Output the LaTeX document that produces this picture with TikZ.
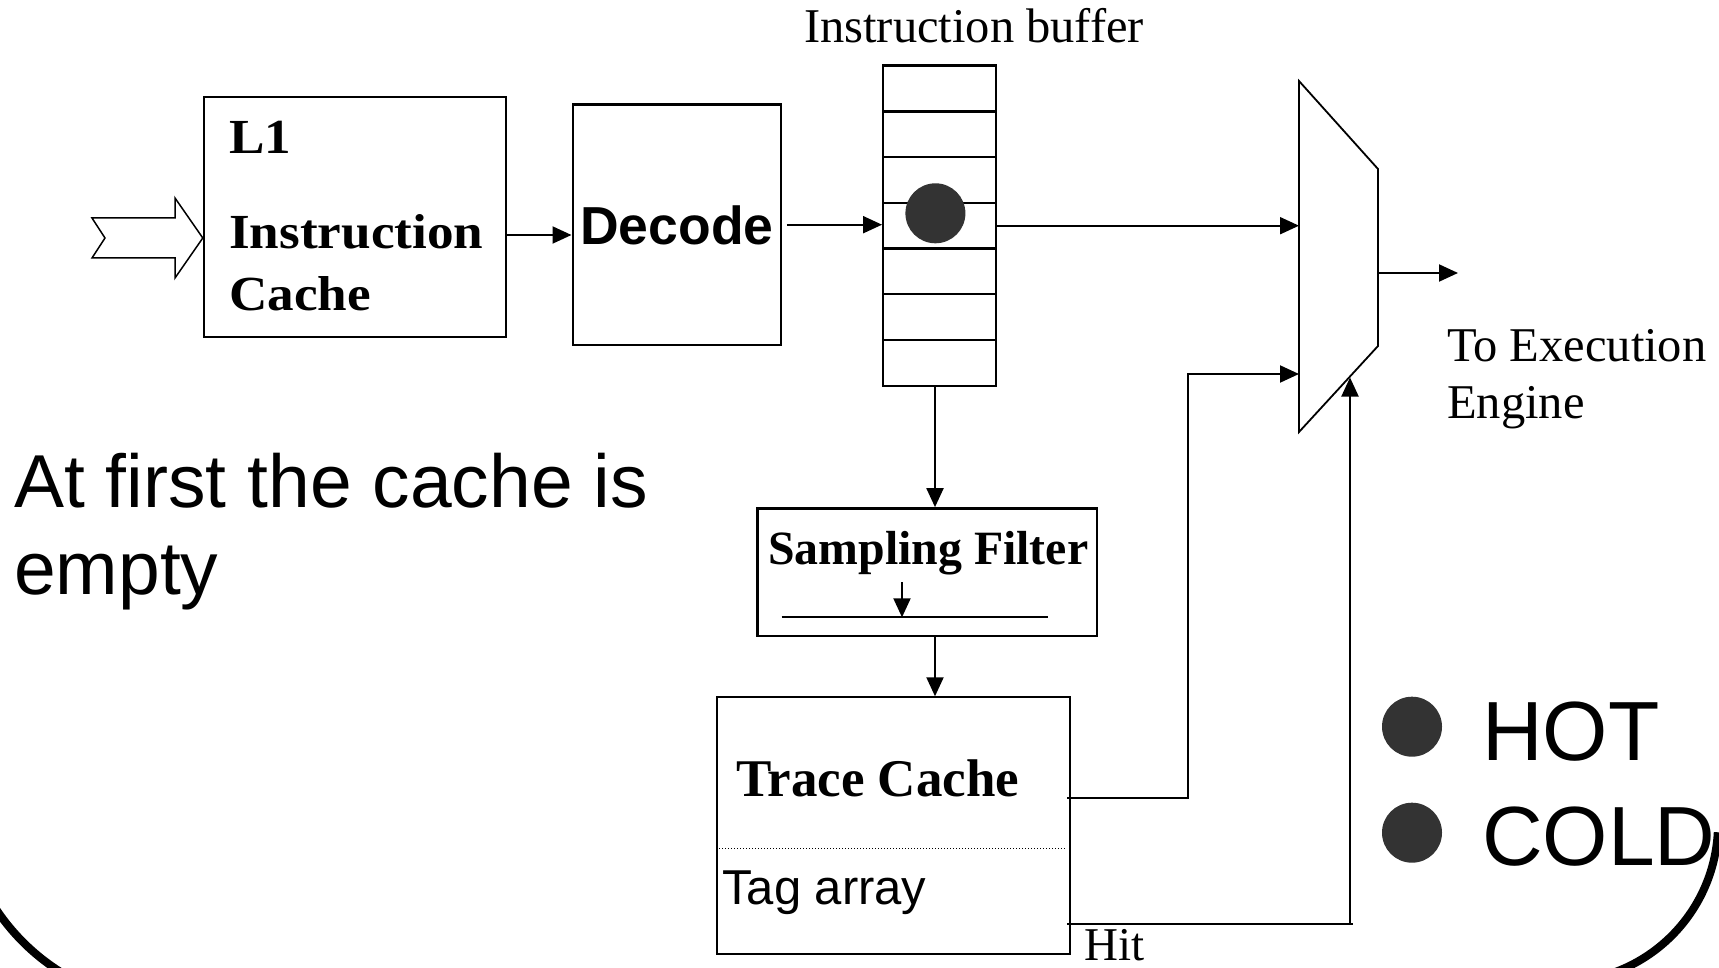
\documentclass[tikz,border=0pt]{standalone}
\usepackage{fontspec}
\newfontfamily\timesf{Liberation Serif}
\newfontfamily\arialf{Liberation Sans}
\usetikzlibrary{arrows.meta,calc}
\definecolor{dotgray}{RGB}{51,51,51}

\begin{document}
\begin{tikzpicture}[x=1pt,y=-1pt,
  box/.style={draw, rectangle, line width=2.4pt, inner sep=0pt},
  wire/.style={line width=2pt},
  arr/.style={wire, -{Triangle[length=19pt,width=17pt]}},
  lbl/.style={inner sep=0pt, anchor=base west},
  tr/.style={lbl, font=\timesf\fontsize{#1}{#1}\selectfont},
  trb/.style={lbl, font=\timesf\bfseries\fontsize{#1}{#1}\selectfont},
  ar/.style={lbl, font=\arialf\fontsize{#1}{#1}\selectfont},
  arb/.style={lbl, font=\arialf\bfseries\fontsize{#1}{#1}\selectfont},
  hotdot/.style={fill=dotgray}
]
\useasboundingbox (0,0) rectangle (1719,968);
\clip (0,0) rectangle (1719,968);

% ---------- front end: L1 cache, decoder, instruction buffer ----------
\node[box, minimum width=302pt, minimum height=240pt] (l1) at (355,217.3) {};
\node[trb=49, xscale=1.085] (l1a) at (229,154) {L1};
\node[trb=49, xscale=1.085] (l1b) at (229,249) {Instruction};
\node[trb=49, xscale=1.085] (l1c) at (229,311) {Cache};

\node[box, minimum width=208pt, minimum height=240.7pt] (dec) at (676.7,224.7) {};
\node[arb=53.5] (dect) at (580,245) {Decode};

\node[box, minimum width=112.5pt, minimum height=320pt] (buf) at (939.5,225.7) {};
\foreach \k in {1,...,6}
  \draw[line width=2.4pt] ($(buf.north west)+(1.2,\k*45.71+1.2)$) -- ($(buf.north east)+(-1.2,\k*45.71+1.2)$);
\fill[hotdot] (935.4,213.3) circle[radius=30];
\node[tr=48.5] (buft) at (804,43) {Instruction buffer};

% incoming hollow block arrow
\draw[line width=1.5pt, line join=miter]
  (92,218) -- (175,218) -- (175,198) -- (l1.west |- 0,238) -- (175,278)
  -- (175,258) -- (92,258) -- (105,238) -- cycle;

% ---------- selector (multiplexer) ----------
\coordinate (mtl) at (1299,81);
\coordinate (mtr) at (1378,169);
\coordinate (mbr) at (1378,346);
\coordinate (mbl) at (1299,432);
\draw[line width=1.8pt] (mtl) -- (mtr) -- (mbr) -- (mbl) -- cycle;
\coordinate (mout) at (1458,273);
\coordinate (hitin) at (1350,377.5);

\node[tr=48.5] (exa) at (1447,361) {To Execution};
\node[tr=48.5] (exb) at (1447,418) {Engine};

% ---------- trace cache path ----------
\node[box, minimum width=339.4pt, minimum height=127.7pt] (sf) at (927,572.2) {};
\node[trb=47.8] (sft) at (768,564) {Sampling Filter};
\coordinate (sfa) at (902,582);
\coordinate (sfl) at (781.7,617.3);
\coordinate (sfr) at (1047.7,617.3);
\draw[wire] (sfl) -- (sfr);
\draw[arr] (sfa) -- (sfa |- sfl);

\node[box, line width=2pt, minimum width=352.7pt, minimum height=257pt] (tc) at (893.7,825.8) {};
\node[trb=53] (tct) at (736,796) {Trace Cache};
\draw[line width=1pt, dash pattern=on 1pt off 2pt] ($(tc.west)+(3,22.5)$) -- ($(tc.east)+(-5,22.5)$);
\node[ar=49] (tag) at (722,904) {Tag array};
\node[tr=47] (hit) at (1084,960) {Hit};

% ---------- connectors ----------
\coordinate (r1) at (0,235);
\coordinate (col) at (935,0);
\coordinate (tcy) at (0,797.7);
\coordinate (hity) at (0,924);
\coordinate (in2) at (0,374);

\draw[arr] (l1.east |- r1) -- (dec.west |- r1);
\draw[arr] ([xshift=5pt]dec.east) -- (dec.east -| buf.west);
\draw[arr] (buf.east) -- (buf.east -| mtl);
\draw[arr] (mbr |- mout) -- (mout);
\draw[arr] (buf.south -| col) -- (sf.north -| col);
\draw[arr] (sf.south -| col) -- (tc.north -| col);
\draw[arr] ([xshift=-4pt]tc.east |- tcy) -| (1187.5,374) -- (mtl |- in2);
\draw[wire] ([xshift=-4pt]tc.east |- hity) -- (1353,924);
\draw[arr] (hitin |- hity) -- (hitin);

% ---------- slide text and legend ----------
\node[ar=75] (note1) at (14,507) {At first the cache is};
\node[ar=75] (note2) at (14,594) {empty};

\fill[hotdot] (1412,726.7) circle[radius=30];
\fill[hotdot] (1412,832.7) circle[radius=30];
\node[ar=84] (hot) at (1482,760) {HOT};
\node[ar=84] (cold) at (1482,865) {COLD};

% ---------- outline of the slide frame ----------
\draw[line width=8pt] ($(175,790)+(160:215)$) arc[start angle=160, end angle=100, radius=215];
\draw[line width=8pt] ($(1560,824)+(3:158)$) arc[start angle=3, end angle=80, radius=158];
\end{tikzpicture}
\end{document}
